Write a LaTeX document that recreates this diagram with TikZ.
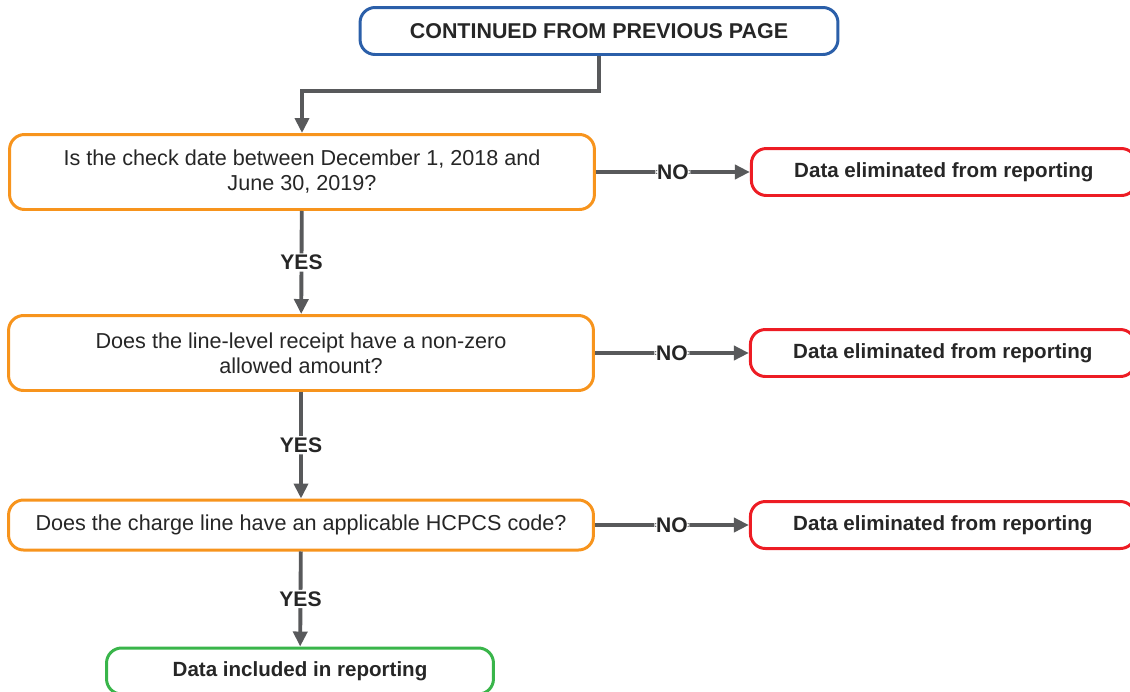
\documentclass[tikz,border=0pt]{standalone}
\usepackage{fontspec}
\setmainfont{Liberation Sans}
\usepackage{xcolor}
\usetikzlibrary{positioning, arrows.meta}

\definecolor{flowblue}{HTML}{2B5FA9}
\definecolor{floworange}{HTML}{F7941D}
\definecolor{flowred}{HTML}{ED1C24}
\definecolor{flowgreen}{HTML}{39B54A}
\definecolor{flowgray}{HTML}{58595B}

\begin{document}
\begin{tikzpicture}[
        x=0.02cm, y=-0.02cm,
        every node/.style={font=\fontsize{12.3}{14.2}\selectfont, rounded corners=0.3cm, align=center, text=black!85},
        start/.style={draw=flowblue, line width=1.7pt, minimum width=9.56cm, minimum height=0.94cm, font=\fontsize{12.2}{14.2}\selectfont\bfseries},
        question/.style={draw=floworange, line width=1.7pt, minimum width=11.7cm, minimum height=1.5cm},
        reject/.style={draw=flowred, line width=1.7pt, minimum width=7.7cm, minimum height=0.94cm, font=\fontsize{11.7}{14.2}\selectfont\bfseries},
        accept/.style={draw=flowgreen, line width=1.7pt, minimum width=7.74cm, minimum height=0.92cm, font=\fontsize{11.7}{14.2}\selectfont\bfseries},
        answer/.style={fill=white, inner sep=1pt, font=\fontsize{12}{14.2}\selectfont\bfseries},
        arrow/.style={-{Triangle[length=0.3cm, width=0.28cm]}, line width=2.2pt, draw=flowgray}
    ]
    \clip (0,0) rectangle (1130,691);

    % Nodes
    \node[start] (prev) at (599,31) {CONTINUED FROM PREVIOUS PAGE};
    \node[question] (date) at (302,172) {Is the check date between December 1, 2018 and\\June 30, 2019?};
    \node[question] (allowed) at (301,353) {Does the line-level receipt have a non-zero\\allowed amount?};
    \node[question, minimum height=1.0cm] (hcpcs) at (301,525) {Does the charge line have an applicable HCPCS code?};
    \node[accept] (incl) at (300,671) {Data included in reporting};
    \node[reject, right=3.08cm of date] (elimA) {Data eliminated from reporting};
    \node[reject, right=3.08cm of allowed] (elimB) {Data eliminated from reporting};
    \node[reject, right=3.08cm of hcpcs] (elimC) {Data eliminated from reporting};

    % Arrows
    \draw[arrow] (prev.south) -- ++(0,35) -| (date.north);
    \draw[arrow] (date) -- node[answer] {YES} (allowed);
    \draw[arrow] (allowed) -- node[answer] {YES} (hcpcs);
    \draw[arrow] (hcpcs) -- node[answer] {YES} (incl);
    \draw[arrow] (date) -- node[answer] {NO} (elimA);
    \draw[arrow] (allowed) -- node[answer] {NO} (elimB);
    \draw[arrow] (hcpcs) -- node[answer] {NO} (elimC);

\end{tikzpicture}
\end{document}
